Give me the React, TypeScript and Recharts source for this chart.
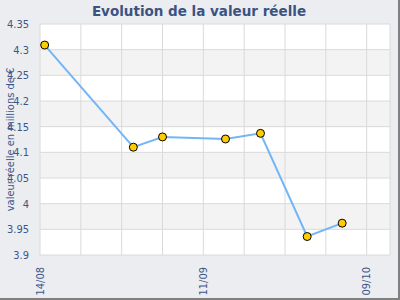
import React from 'react'
import { CartesianGrid, Line, LineChart, ReferenceLine, XAxis, YAxis } from 'recharts'

// days since 14/08 and value (millions €)
const days = [0.8, 16, 21, 31.8, 37.8, 45.8, 51.8]
const values = [4.309, 4.11, 4.13, 4.126, 4.137, 3.936, 3.962]

const xTicks = [0, 28, 56]
const xTickLabels = ['14/08', '11/09', '09/10']
const weekLines = [0, 7, 14, 21, 28, 35, 42, 49, 56, 60]
const yTicks = [3.9, 3.95, 4, 4.05, 4.1, 4.15, 4.2, 4.25, 4.3, 4.35]

const textColor = '#3d5689'
const font = '"DejaVu Sans Condensed", "DejaVu Sans", sans-serif'

const data = days.map((d, i) => ({ day: d, value: values[i] }))

const XTick = (props: any) => {
  const { x, y, payload } = props
  const idx = xTicks.indexOf(payload.value)
  return (
    <text x={x} y={y} transform={`rotate(-90, ${x}, ${y})`} textAnchor="end" dominantBaseline="central"
      fill={textColor} fontSize={11} fontFamily={font}>
      {idx >= 0 ? xTickLabels[idx] : ''}
    </text>
  )
}

const YLabel = (props: any) => {
  const { viewBox } = props
  const cx = 10
  const cy = viewBox.y + viewBox.height / 2
  return (
    <text x={cx} y={cy} transform={`rotate(-90, ${cx}, ${cy})`} textAnchor="middle" dominantBaseline="central"
      fill={textColor} fontSize={11} fontFamily={font}>
      valeur réelle en millions de €
    </text>
  )
}

export default function App() {
  return (
    <div style={{ position: 'absolute', top: 0, left: 0, width: 400, height: 300, background: '#ecedf0',
      borderRight: '2px solid #808080', borderBottom: '2px solid #808080', boxSizing: 'border-box' }}>
      <div style={{ position: 'absolute', top: 3, left: 0, width: 398, textAlign: 'center',
        fontFamily: '"DejaVu Sans", sans-serif', fontWeight: 'bold', fontSize: 13.5, color: '#3b5383',
        lineHeight: '17px' }}>
        Evolution de la valeur réelle
      </div>
      <LineChart width={398} height={298} data={data} margin={{ top: 24, right: 8, left: 0, bottom: 0 }}>
        <CartesianGrid vertical={false} stroke="#dadada" horizontalFill={['#ffffff', '#f3f3f3']} fillOpacity={1} />
        {weekLines.map(d => (
          <ReferenceLine key={d} x={d} stroke="#dadada" strokeWidth={1} />
        ))}
        <XAxis dataKey="day" type="number" domain={[0, 60]} ticks={xTicks} interval={0} height={43}
          axisLine={false} tickLine={false} tickSize={6} tickMargin={6} tick={<XTick />} />
        <YAxis type="number" domain={[3.9, 4.35]} ticks={yTicks} interval={0} width={40}
          axisLine={false} tickLine={false} tickSize={6} tickMargin={5}
          tick={{ fill: textColor, fontSize: 11, fontFamily: font }}
          label={<YLabel />} />
        <Line dataKey="value" type="linear" stroke="#72b6f6" strokeWidth={2} isAnimationActive={false}
          dot={{ r: 4, fill: '#ffcc00', stroke: '#000', strokeWidth: 1, fillOpacity: 1 }} />
      </LineChart>
    </div>
  )
}
